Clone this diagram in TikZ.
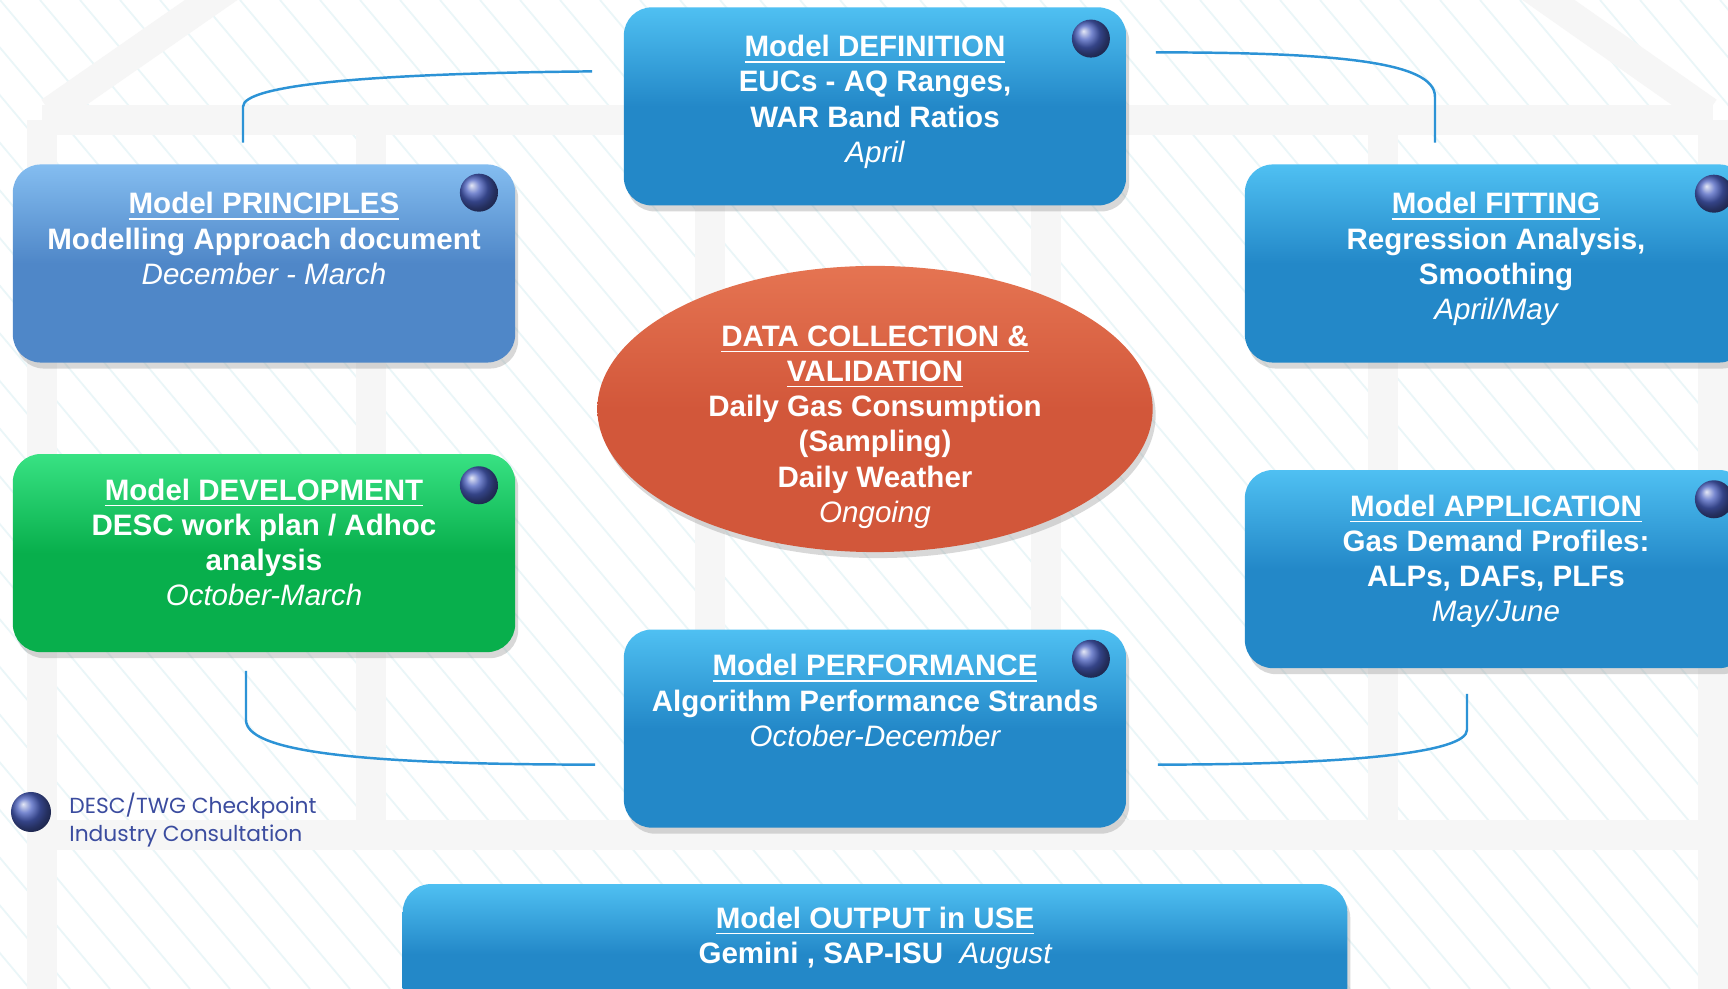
\documentclass[tikz,border=0pt]{standalone}
\usepackage{fontspec}
\setmainfont{Liberation Sans}
\newfontfamily\legendfont{Poppins}
\usetikzlibrary{positioning,shapes.geometric,shadows}

\definecolor{boxblue}{HTML}{2388C8}
\definecolor{boxtop}{HTML}{4FC0F2}
\definecolor{pribase}{HTML}{4F87C8}
\definecolor{pritop}{HTML}{84BDF0}
\definecolor{devbase}{HTML}{08AF4C}
\definecolor{devtop}{HTML}{38E283}
\definecolor{datared}{HTML}{D2573A}
\definecolor{datatop}{HTML}{E57452}
\definecolor{linkblue}{HTML}{2C93D6}
\definecolor{ballblue}{HTML}{4A60C0}
\definecolor{legendblue}{HTML}{3B4C9F}
\definecolor{hatchcol}{HTML}{EAF6F8}
\definecolor{framecol}{HTML}{F6F6F6}

\newcommand{\when}[1]{{\mdseries\itshape #1}}

\tikzset{
  stage/.style={rectangle, rounded corners=0.28cm, minimum width=5.02cm, minimum height=1.98cm,
    inner sep=0, top color=boxtop, bottom color=boxblue, middle color=boxblue,
    drop shadow={shadow xshift=0.03cm, shadow yshift=-0.06cm, opacity=0.3}},
  pristage/.style={top color=pritop, bottom color=pribase, middle color=pribase},
  devstage/.style={top color=devtop, bottom color=devbase, middle color=devbase},
  datablob/.style={ellipse, minimum width=5.55cm, minimum height=2.86cm, inner sep=0,
    top color=datatop, bottom color=datared, middle color=datared,
    drop shadow={shadow xshift=0.03cm, shadow yshift=-0.06cm, opacity=0.3}},
  stagetxt/.style={text=white, font=\fontsize{8.4}{10}\selectfont\bfseries, align=center, inner sep=0},
  checkpt/.style={circle, minimum size=0.38cm, inner sep=0, ball color=ballblue},
  legendtxt/.style={text=legendblue, font=\legendfont\fontsize{6.2}{7.7}\selectfont, align=left, inner sep=0},
  link/.style={draw=linkblue, line width=0.7pt},
  hatch/.style={draw=hatchcol, line width=0.5pt},
  beam/.style={draw=framecol, line width=0.3cm},
}

\begin{document}
\begin{tikzpicture}[x=0.01cm, y=-0.01cm]
  \useasboundingbox (0,0) rectangle (1728,989);
  \clip (0,0) rectangle (1728,989);
  \fill[white] (0,0) rectangle (1728,989);

  % background frame and hatching
  \foreach \i in {-840,-800,...,1720}
    \draw[hatch] (\i,0) -- ++(830,989);
  \draw[beam] (240,-20) -- (50,112);
  \draw[beam] (1520,-20) -- (1708,112);
  \draw[beam] (42,120) -- (1713,120);
  \draw[beam] (42,835) -- (1713,835);
  \foreach \x in {42,371,710,1046,1383,1713}
    \draw[beam] (\x,120) -- (\x,835);
  \draw[beam] (42,835) -- (42,1000);
  \draw[beam] (1713,835) -- (1713,1000);

  % stages
  \node[datablob] (ell) at (875,409) {};
  \node[stage, above=0.59cm of ell] (def) {};
  \node[stage, below=0.76cm of ell] (perf) {};
  \node[stage, minimum width=9.44cm, minimum height=1.4cm, below=0.55cm of perf] (out) {};
  \node[stage, pristage] (pri) at (264,263.5) {};
  \node[stage, devstage, below=0.9cm of pri] (dev) {};
  \node[stage] (fit) at (1496,263.5) {};
  \node[stage, below=1.06cm of fit] (app) {};

  % connectors
  \draw[link] ([xshift=-3.1mm,yshift=3.5mm]def.west) .. controls +(-220,2) and +(0,-22) .. ([xshift=-2.1mm,yshift=5.7mm]pri.north) -- ([xshift=-2.1mm,yshift=2.1mm]pri.north);
  \draw[link] ([xshift=2.9mm,yshift=5.4mm]def.east) .. controls +(180,0) and +(0,-35) .. ([xshift=-6.1mm,yshift=6.7mm]fit.north) -- ([xshift=-6.1mm,yshift=2.1mm]fit.north);
  \draw[link] ([xshift=-1.8mm,yshift=-1.8mm]dev.south) -- ([xshift=-1.8mm,yshift=-6.7mm]dev.south) .. controls +(0,30) and +(-250,0) .. ([xshift=-2.8mm,yshift=-3.6mm]perf.west);
  \draw[link] ([xshift=-2.9mm,yshift=-2.5mm]app.south) -- ([xshift=-2.9mm,yshift=-6.1mm]app.south) .. controls +(0,22) and +(200,0) .. ([xshift=3.1mm,yshift=-3.6mm]perf.east);

  % texts
  \node[stagetxt, below=0.28cm of def.north] (def-t) {\underline{Model DEFINITION}\\EUCs - AQ Ranges,\\WAR Band Ratios\\\when{April}};
  \node[stagetxt, below=0.28cm of pri.north] (pri-t) {\underline{Model PRINCIPLES}\\Modelling Approach document\\\when{December - March}};
  \node[stagetxt, below=0.28cm of fit.north] (fit-t) {\underline{Model FITTING}\\Regression Analysis,\\Smoothing\\\when{April/May}};
  \node[stagetxt, below=0.25cm of dev.north] (dev-t) {\underline{Model DEVELOPMENT}\\DESC work plan / Adhoc\\analysis\\\when{October-March}};
  \node[stagetxt, below=0.25cm of app.north] (app-t) {\underline{Model APPLICATION}\\Gas Demand Profiles:\\ALPs, DAFs, PLFs\\\when{May/June}};
  \node[stagetxt, below=0.25cm of perf.north] (perf-t) {\underline{Model PERFORMANCE}\\Algorithm Performance Strands\\\when{October-December}};
  \node[stagetxt, below=0.23cm of out.north] (out-t) {\underline{Model OUTPUT in USE}\\Gemini , SAP-ISU \ \when{August}};
  \node[stagetxt, yshift=-0.18cm] (ell-t) at (ell) {\underline{DATA COLLECTION \&}\\\underline{VALIDATION}\\Daily Gas Consumption\\(Sampling)\\Daily Weather\\\when{Ongoing}};

  % checkpoints
  \node[checkpt, below left=0.18cm and 0.22cm of def.north east] (def-b) {};
  \node[checkpt, below left=0.15cm and 0.23cm of pri.north east] (pri-b) {};
  \node[checkpt, below left=0.18cm and 0.23cm of dev.north east] (dev-b) {};
  \node[checkpt, below left=0.16cm and 0.22cm of perf.north east] (perf-b) {};
  \node[checkpt, below left=0.16cm and 0.2cm of fit.north east] (fit-b) {};
  \node[checkpt, below left=0.16cm and 0.2cm of app.north east] (app-b) {};

  % legend
  \node[checkpt, minimum size=0.4cm] (key) at (31,812) {};
  \node[legendtxt, right=0.17cm of key, yshift=-0.08cm] (key-t) {DESC/TWG Checkpoint\\Industry Consultation};
\end{tikzpicture}
\end{document}
